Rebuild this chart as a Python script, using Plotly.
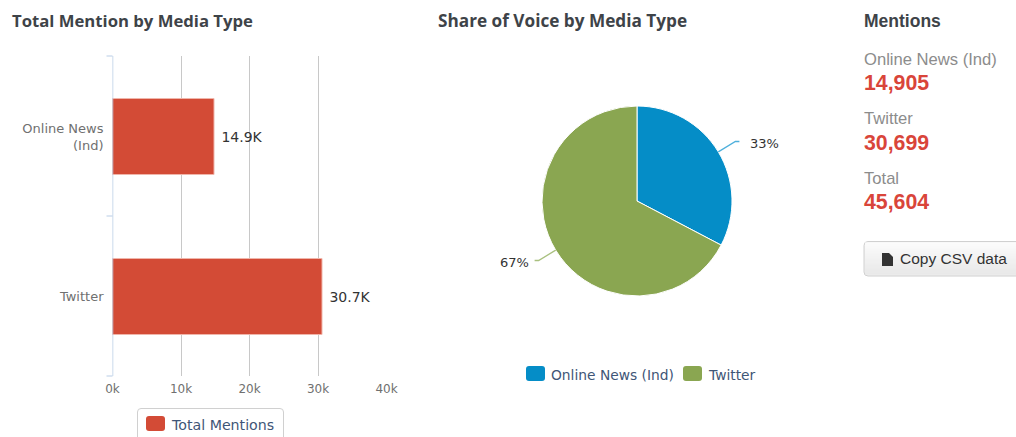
import math
import plotly.graph_objects as go

W, H = 1016, 437

# Data
media_types = ["Online News (Ind)", "Twitter"]
media_tick_labels = ["Online News<br>(Ind)", "Twitter"]
mention_counts = [14905, 30699]
mention_total = 45604
x_ticks = [0, 10000, 20000, 30000, 40000]
x_tick_labels = ["0k", "10k", "20k", "30k", "40k"]

# Colours
RED = "#d34b36"
BLUE = "#058dc7"
GREEN = "#8aa651"
AXIS = "#b9cde6"
GRID = "#c8c8c8"
HEADING = "#3e4348"
LABEL = "#707070"
LEGEND_TEXT = "#3f5677"
STAT_RED = "#d9453a"

# Page layout, in page pixels
PLOT_LEFT, PLOT_RIGHT, PLOT_TOP, PLOT_BOTTOM = 112.5, 386.5, 56, 376
PIE_CX, PIE_CY, PIE_R = 637, 201, 95

TITLE_FONT = "Open Sans"
CHART_FONT = "DejaVu Sans"
SIDE_FONT = "Liberation Sans"


def fx(x):
    return x / W


def fy(y):
    return 1 - y / H


def text(x, y, s, size, color, family=CHART_FONT, anchor="left", bold=False):
    return dict(
        x=fx(x), y=fy(y), xref="paper", yref="paper", text=f"<b>{s}</b>" if bold else s,
        showarrow=False, xanchor=anchor, yanchor="middle", borderpad=0, borderwidth=0,
        font=dict(size=size, color=color, family=family),
    )


def round_rect(x0, y0, x1, y1, r):
    X0, X1, Y0, Y1, RX, RY = fx(x0), fx(x1), fy(y0), fy(y1), r / W, r / H
    return (
        f"M {X0 + RX} {Y0} L {X1 - RX} {Y0} Q {X1} {Y0} {X1} {Y0 - RY} "
        f"L {X1} {Y1 + RY} Q {X1} {Y1} {X1 - RX} {Y1} L {X0 + RX} {Y1} "
        f"Q {X0} {Y1} {X0} {Y1 + RY} L {X0} {Y0 - RY} Q {X0} {Y0} {X0 + RX} {Y0} Z"
    )


def rr_shape(x0, y0, x1, y1, r, fill, line=None, width=1):
    return dict(
        type="path", xref="paper", yref="paper", path=round_rect(x0, y0, x1, y1, r),
        fillcolor=fill, line=dict(color=line or fill, width=width if line else 0), layer="above",
    )


def leader(mid_angle, color):
    # Elbowed connector leaving the slice edge at the slice's middle angle
    sin_a, cos_a = math.sin(mid_angle), math.cos(mid_angle)
    side = 1 if sin_a > 0 else -1
    x0, y0 = PIE_CX + PIE_R * sin_a, PIE_CY - PIE_R * cos_a
    x1, y1 = PIE_CX + (PIE_R + 20) * sin_a, PIE_CY - (PIE_R + 20) * cos_a
    x2 = x1 + 4 * side
    return dict(
        type="path", xref="paper", yref="paper",
        path=f"M {fx(x0)} {fy(y0)} L {fx(x1)} {fy(y1)} L {fx(x2)} {fy(y1)}",
        line=dict(color=color, width=1.3), layer="above",
    ), x2, y1


fig = go.Figure()

fig.add_trace(go.Bar(
    y=media_types, x=mention_counts, orientation="h", width=0.475,
    marker=dict(color=RED, line=dict(color="#f0b5aa", width=1)),
    text=[f"\u00a0{v / 1000:.1f}K" for v in mention_counts], textposition="outside",
    textfont=dict(size=14, color="#333333", family=CHART_FONT),
    cliponaxis=False, showlegend=False,
))

fig.add_trace(go.Pie(
    labels=media_types, values=mention_counts, sort=False, direction="clockwise", rotation=0,
    marker=dict(colors=[BLUE, GREEN], line=dict(color="#ffffff", width=1)),
    textinfo="none", showlegend=False,
    domain=dict(
        x=[fx(PIE_CX - PIE_R), fx(PIE_CX + PIE_R)],
        y=[fy(PIE_CY + PIE_R), fy(PIE_CY - PIE_R)],
    ),
))

shapes = []
annotations = [
    text(12, 21, "Total Mention by Media Type", 16.7, HEADING, TITLE_FONT, bold=True),
    text(438, 21, "Share of Voice by Media Type", 17.2, HEADING, TITLE_FONT, bold=True),
    text(864, 21, "Mentions", 17.5, HEADING, SIDE_FONT, bold=True),
]

# Pie slice connectors and percentage labels
total = sum(mention_counts)
cumulative = 0
for value, color in zip(mention_counts, [BLUE, GREEN]):
    mid = 2 * math.pi * (cumulative + value / 2) / total
    cumulative += value
    shape, end_x, end_y = leader(mid, "#4fb0dc" if color == BLUE else "#a9c07f")
    shapes.append(shape)
    right_side = math.sin(mid) > 0
    annotations.append(text(
        end_x + (11 if right_side else -6), end_y + 2, f"{round(100 * value / total)}%",
        13, "#333333", anchor="left" if right_side else "right",
    ))

# Bar chart legend box, open at the bottom edge of the page
shapes.append(dict(
    type="path", xref="paper", yref="paper",
    path=(
        f"M {fx(137.5)} {fy(437)} L {fx(137.5)} {fy(412)} Q {fx(137.5)} {fy(408.5)} {fx(141)} {fy(408.5)} "
        f"L {fx(280)} {fy(408.5)} Q {fx(283.5)} {fy(408.5)} {fx(283.5)} {fy(412)} L {fx(283.5)} {fy(437)}"
    ),
    line=dict(color="#d0d0d0", width=1),
))
shapes.append(rr_shape(146, 416, 165, 431, 3, RED))
annotations.append(text(171, 424.5, "Total Mentions", 14.2, LEGEND_TEXT))

# Pie legend
shapes.append(rr_shape(526, 366, 545, 381, 3, BLUE))
annotations.append(text(551, 374.5, media_types[0], 13.8, LEGEND_TEXT))
shapes.append(rr_shape(683, 366, 702, 381, 3, GREEN))
annotations.append(text(708, 374.5, media_types[1], 13.8, LEGEND_TEXT))

# Mentions summary column
summary = list(zip(media_types, mention_counts)) + [("Total", mention_total)]
for i, (name, value) in enumerate(summary):
    annotations.append(text(864, 59 + i * 59.5, name, 16.6, "#8c8c8c", SIDE_FONT))
    annotations.append(text(864, 83 + i * 59.5, f"{value:,}", 21.3, STAT_RED, SIDE_FONT, bold=True))

# Copy button running off the right edge, shaded from white to light grey
shapes.append(rr_shape(864, 241.5, 1030, 276, 4, "#f0f0f0", "#d0d0d0"))
BUTTON_BANDS = 32
for band in range(BUTTON_BANDS):
    top = 242.5 + band
    shade = round(255 - (255 - 230) * band / (BUTTON_BANDS - 1))
    shapes.append(dict(
        type="rect", xref="paper", yref="paper", x0=fx(865), x1=fx(1016), y0=fy(top), y1=fy(top + 1),
        fillcolor=f"rgb({shade},{shade},{shade})", line=dict(width=0), layer="above",
    ))
shapes.append(dict(
    type="path", xref="paper", yref="paper", fillcolor="#333333", line=dict(width=0), layer="above",
    path=(
        f"M {fx(882)} {fy(253)} L {fx(889)} {fy(253)} L {fx(893)} {fy(257)} "
        f"L {fx(893)} {fy(266)} L {fx(882)} {fy(266)} Z"
    ),
))
annotations.append(text(900, 258.5, "Copy CSV data", 15.5, "#333333", SIDE_FONT))

fig.update_layout(
    width=W, height=H, margin=dict(l=0, r=0, t=0, b=0, autoexpand=False), autosize=False,
    paper_bgcolor="#ffffff", plot_bgcolor="#ffffff", bargap=0,
    shapes=shapes, annotations=annotations,
    xaxis=dict(
        domain=[fx(PLOT_LEFT), fx(PLOT_RIGHT)], range=[0, 40000], tickvals=x_ticks, ticktext=x_tick_labels,
        showgrid=True, gridcolor=GRID, gridwidth=1.4, zeroline=False, showline=False, ticks="",
        ticklabelstandoff=4, tickfont=dict(size=12, color=LABEL, family=CHART_FONT), anchor="y",
    ),
    yaxis=dict(
        domain=[fy(PLOT_BOTTOM), fy(PLOT_TOP)], range=[1.495, -0.505], type="category",
        categoryorder="array", categoryarray=media_types, tickvals=[0, 1], ticktext=media_tick_labels,
        showgrid=False, zeroline=False, showline=False,
        ticks="", ticklabelstandoff=8, tickfont=dict(size=13, color=LABEL, family=CHART_FONT), anchor="x",
    ),
    showlegend=False,
)

# Axis line and the ticks between categories, drawn over the zero gridline
fig.add_shape(
    type="line", xref="x", yref="paper", x0=0, x1=0, y0=fy(PLOT_BOTTOM), y1=fy(PLOT_TOP), layer="above",
    line=dict(color=AXIS, width=1.5),
)
for band_edge in [PLOT_TOP, (PLOT_TOP + PLOT_BOTTOM) / 2, PLOT_BOTTOM]:
    fig.add_shape(
        type="line", xref="paper", yref="paper", x0=fx(PLOT_LEFT - 6), x1=fx(PLOT_LEFT),
        y0=fy(band_edge), y1=fy(band_edge), line=dict(color=AXIS, width=1),
    )

fig.write_html("out.html", config=dict(displayModeBar=False))
